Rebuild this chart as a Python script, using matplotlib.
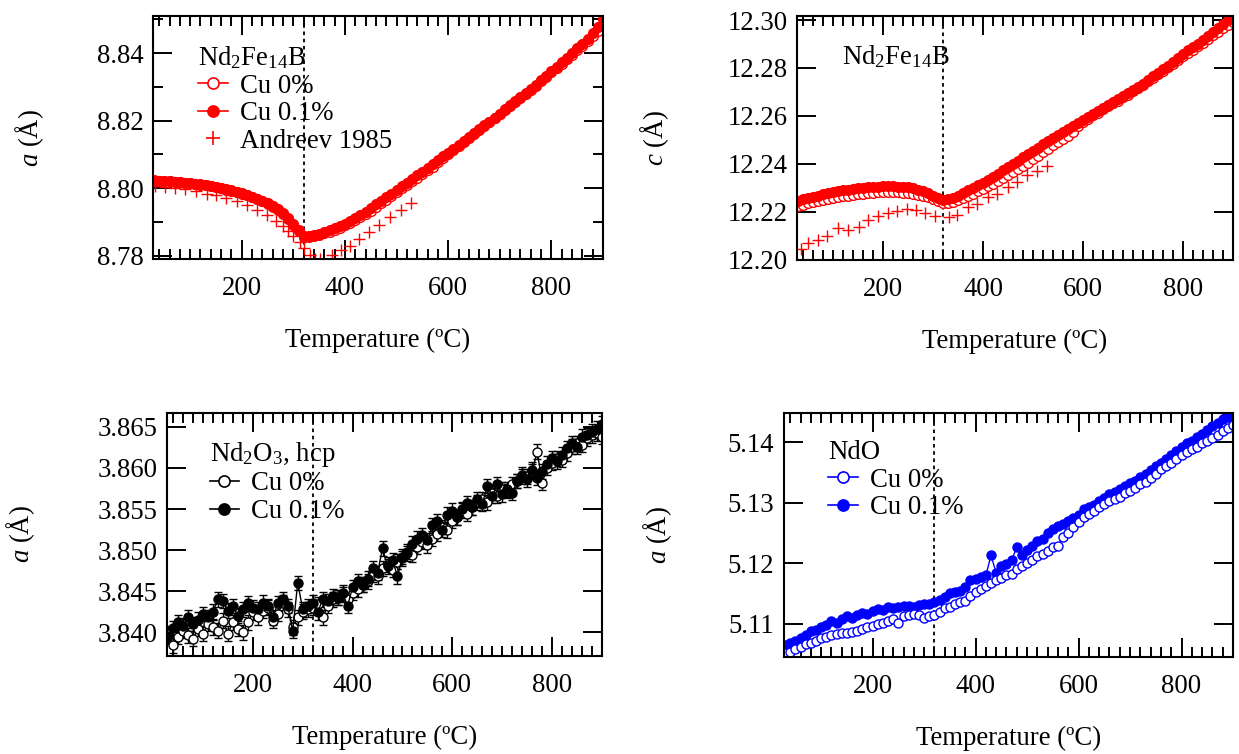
import numpy as np
import matplotlib
matplotlib.use("Agg")
import matplotlib.pyplot as plt
from matplotlib.lines import Line2D
from matplotlib.ticker import MultipleLocator, FormatStrFormatter

plt.rcParams['font.family'] = ['Liberation Serif', 'DejaVu Serif']
plt.rcParams['mathtext.fontset'] = 'custom'
plt.rcParams['mathtext.rm'] = 'Liberation Serif'
plt.rcParams['mathtext.it'] = 'Liberation Serif:italic'
plt.rcParams['font.size'] = 19.3

# temperature grid of the measurements (deg C)
temps = np.arange(30, 901, 10)

# Nd2Fe14B lattice parameter a (Angstrom)
a_cu0 = [8.8025, 8.8022, 8.8021, 8.8020, 8.8019, 8.8017, 8.8016, 8.8014, 8.8012, 8.8010,
         8.8008, 8.8005, 8.8002, 8.7999, 8.7995, 8.7992, 8.7988, 8.7984, 8.7979, 8.7974,
         8.7968, 8.7961, 8.7953, 8.7944, 8.7935, 8.7924, 8.7909, 8.7892, 8.7874, 8.7858,
         8.7855, 8.7857, 8.7861, 8.7866, 8.7871, 8.7877, 8.7883, 8.7890, 8.7897, 8.7905,
         8.7914, 8.7924, 8.7933, 8.7943, 8.7955, 8.7966, 8.7977, 8.7988, 8.7999, 8.8009,
         8.8020, 8.8031, 8.8042, 8.8053, 8.8064, 8.8076, 8.8090, 8.8102, 8.8114, 8.8126,
         8.8137, 8.8149, 8.8160, 8.8172, 8.8184, 8.8195, 8.8207, 8.8219, 8.8231, 8.8243,
         8.8255, 8.8267, 8.8279, 8.8291, 8.8304, 8.8317, 8.8330, 8.8343, 8.8356, 8.8369,
         8.8382, 8.8395, 8.8408, 8.8422, 8.8436, 8.8450, 8.8465, 8.8481]
a_cu01 = [8.8022, 8.8022, 8.8021, 8.8020, 8.8019, 8.8018, 8.8016, 8.8015, 8.8013, 8.8011,
          8.8008, 8.8006, 8.8003, 8.8000, 8.7996, 8.7993, 8.7989, 8.7985, 8.7980, 8.7975,
          8.7969, 8.7962, 8.7955, 8.7946, 8.7937, 8.7927, 8.7912, 8.7895, 8.7876, 8.7856,
          8.7858, 8.7861, 8.7865, 8.7870, 8.7875, 8.7881, 8.7887, 8.7894, 8.7902, 8.7910,
          8.7920, 8.7930, 8.7941, 8.7953, 8.7962, 8.7973, 8.7983, 8.7994, 8.8005, 8.8016,
          8.8027, 8.8038, 8.8049, 8.8060, 8.8071, 8.8082, 8.8094, 8.8105, 8.8116, 8.8128,
          8.8139, 8.8151, 8.8162, 8.8174, 8.8186, 8.8197, 8.8209, 8.8221, 8.8233, 8.8245,
          8.8257, 8.8269, 8.8282, 8.8294, 8.8307, 8.8320, 8.8333, 8.8346, 8.8359, 8.8373,
          8.8386, 8.8400, 8.8414, 8.8428, 8.8443, 8.8460, 8.8478, 8.8500]
andreev_a_t = [32, 51, 70, 90, 112, 132, 151, 169, 190, 210, 230, 249, 267, 280, 290,
               299, 312, 320, 332, 341, 351, 374, 393, 409, 428, 446, 466, 488, 509, 527]
andreev_a = [8.8007, 8.8004, 8.8000, 8.7997, 8.7990, 8.7984, 8.7980, 8.7971, 8.7963, 8.7951,
             8.7936, 8.7919, 8.7904, 8.7889, 8.7874, 8.7858, 8.7840, 8.7823, 8.7801, 8.7791,
             8.7791, 8.7802, 8.7818, 8.7828, 8.7850, 8.7870, 8.7891, 8.7914, 8.7935, 8.7955]

# Nd2Fe14B lattice parameter c (Angstrom)
c_cu0 = [12.2225, 12.2230, 12.2235, 12.2240, 12.2245, 12.2250, 12.2254, 12.2258, 12.2262, 12.2265,
         12.2268, 12.2271, 12.2274, 12.2276, 12.2278, 12.2280, 12.2281, 12.2282, 12.2283, 12.2282,
         12.2281, 12.2280, 12.2279, 12.2276, 12.2272, 12.2268, 12.2262, 12.2254, 12.2245, 12.2235,
         12.2238, 12.2242, 12.2249, 12.2257, 12.2266, 12.2276, 12.2286, 12.2297, 12.2307, 12.2317,
         12.2328, 12.2340, 12.2352, 12.2365, 12.2378, 12.2392, 12.2405, 12.2420, 12.2434, 12.2449,
         12.2463, 12.2478, 12.2492, 12.2505, 12.2518, 12.2535, 12.2560, 12.2575, 12.2589, 12.2602,
         12.2614, 12.2627, 12.2640, 12.2652, 12.2664, 12.2677, 12.2689, 12.2702, 12.2716, 12.2730,
         12.2744, 12.2759, 12.2773, 12.2788, 12.2803, 12.2818, 12.2834, 12.2849, 12.2863, 12.2877,
         12.2891, 12.2906, 12.2921, 12.2936, 12.2951, 12.2965, 12.2979, 12.2993]
c_cu01 = [12.2245, 12.2252, 12.2257, 12.2262, 12.2267, 12.2273, 12.2278, 12.2282, 12.2286, 12.2289,
          12.2292, 12.2295, 12.2298, 12.2300, 12.2302, 12.2303, 12.2304, 12.2306, 12.2309, 12.2307,
          12.2305, 12.2304, 12.2302, 12.2298, 12.2292, 12.2286, 12.2278, 12.2268, 12.2258, 12.2248,
          12.2252, 12.2259, 12.2268, 12.2278, 12.2289, 12.2300, 12.2311, 12.2322, 12.2334, 12.2346,
          12.2359, 12.2373, 12.2388, 12.2401, 12.2413, 12.2427, 12.2440, 12.2454, 12.2468, 12.2482,
          12.2495, 12.2508, 12.2520, 12.2533, 12.2546, 12.2558, 12.2570, 12.2582, 12.2595, 12.2607,
          12.2619, 12.2632, 12.2644, 12.2657, 12.2669, 12.2682, 12.2694, 12.2707, 12.2721, 12.2735,
          12.2750, 12.2765, 12.2779, 12.2794, 12.2810, 12.2826, 12.2843, 12.2859, 12.2873, 12.2887,
          12.2902, 12.2918, 12.2934, 12.2950, 12.2967, 12.2984, 12.3001, 12.3019]
andreev_c_t = [35, 50, 70, 87, 110, 130, 152, 170, 190, 210, 228, 247, 265, 283, 303,
               332, 348, 370, 387, 410, 428, 450, 468, 488, 507, 527]
andreev_c = [12.2046, 12.2071, 12.2083, 12.2097, 12.2131, 12.2124, 12.2138, 12.2165, 12.2184,
             12.2193, 12.2204, 12.2211, 12.2207, 12.2193, 12.2184, 12.2177, 12.2188, 12.2218,
             12.2231, 12.2263, 12.2275, 12.2303, 12.2323, 12.2352, 12.2371, 12.2393]

# Nd2O3 (hcp) lattice parameter a
nd2o3_cu0 = [3.8398, 3.8384, 3.8394, 3.8402, 3.8396, 3.8392, 3.8404, 3.8398, 3.8410, 3.8406,
             3.8402, 3.8414, 3.8398, 3.8412, 3.8404, 3.8400, 3.8412, 3.8424, 3.8418, 3.8426,
             3.8430, 3.8414, 3.8422, 3.8436, 3.8428, 3.8406, 3.8418, 3.8425, 3.8428, 3.8430,
             3.8434, 3.8418, 3.8432, 3.8440, 3.8442, 3.8446, 3.8440, 3.8448, 3.8452, 3.8458,
             3.8462, 3.8470, 3.8468, 3.8478, 3.8482, 3.8476, 3.8486, 3.8490, 3.8498, 3.8494,
             3.8504, 3.8510, 3.8506, 3.8514, 3.8520, 3.8528, 3.8524, 3.8536, 3.8540, 3.8548,
             3.8544, 3.8552, 3.8558, 3.8562, 3.8558, 3.8570, 3.8566, 3.8574, 3.8572, 3.8580,
             3.8584, 3.8592, 3.8590, 3.8596, 3.8620, 3.8582, 3.8600, 3.8606, 3.8612, 3.8610,
             3.8618, 3.8626, 3.8630, 3.8628, 3.8636, 3.8640, 3.8642, 3.8638]
nd2o3_cu01 = [3.8395, 3.8405, 3.8412, 3.8408, 3.8418, 3.8410, 3.8415, 3.8422, 3.8418, 3.8425,
              3.8440, 3.8438, 3.8426, 3.8432, 3.8420, 3.8428, 3.8435, 3.8430, 3.8428, 3.8436,
              3.8432, 3.8418, 3.8435, 3.8440, 3.8432, 3.8402, 3.8460, 3.8428, 3.8432, 3.8436,
              3.8424, 3.8440, 3.8438, 3.8444, 3.8442, 3.8448, 3.8432, 3.8455, 3.8462, 3.8458,
              3.8465, 3.8478, 3.8472, 3.8502, 3.8480, 3.8488, 3.8468, 3.8492, 3.8496, 3.8508,
              3.8514, 3.8518, 3.8512, 3.8530, 3.8535, 3.8525, 3.8543, 3.8548, 3.8540, 3.8550,
              3.8557, 3.8552, 3.8562, 3.8556, 3.8578, 3.8566, 3.8580, 3.8568, 3.8574, 3.8570,
              3.8584, 3.8590, 3.8586, 3.8598, 3.8588, 3.8596, 3.8605, 3.8612, 3.8608, 3.8616,
              3.8624, 3.8630, 3.8626, 3.8638, 3.8640, 3.8644, 3.8648, 3.8654]
nd2o3_err = 0.0009

# NdO lattice parameter a
ndo_cu0 = [5.1052, 5.1054, 5.1058, 5.1062, 5.1066, 5.1068, 5.1072, 5.1076, 5.1078, 5.1082,
           5.1083, 5.1084, 5.1084, 5.1086, 5.1088, 5.1092, 5.1094, 5.1096, 5.1100, 5.1102,
           5.1104, 5.1108, 5.1101, 5.1112, 5.1114, 5.1116, 5.1114, 5.1110, 5.1112, 5.1114,
           5.1120, 5.1126, 5.1128, 5.1132, 5.1136, 5.1138, 5.1146, 5.1152, 5.1158, 5.1162,
           5.1168, 5.1172, 5.1176, 5.1180, 5.1182, 5.1190, 5.1196, 5.1200, 5.1206, 5.1212,
           5.1216, 5.1220, 5.1226, 5.1228, 5.1243, 5.1250, 5.1260, 5.1268, 5.1276, 5.1282,
           5.1287, 5.1292, 5.1298, 5.1302, 5.1306, 5.1310, 5.1316, 5.1320, 5.1324, 5.1330,
           5.1334, 5.1340, 5.1348, 5.1356, 5.1360, 5.1366, 5.1372, 5.1378, 5.1384, 5.1388,
           5.1392, 5.1398, 5.1402, 5.1406, 5.1412, 5.1418, 5.1424, 5.1428]
ndo_cu01 = [5.1065, 5.1068, 5.1072, 5.1076, 5.1082, 5.1088, 5.1090, 5.1094, 5.1098, 5.1104,
            5.1102, 5.1108, 5.1112, 5.1110, 5.1115, 5.1118, 5.1116, 5.1121, 5.1124, 5.1122,
            5.1127, 5.1126, 5.1128, 5.1129, 5.1130, 5.1128, 5.1131, 5.1133, 5.1132, 5.1136,
            5.1140, 5.1144, 5.1150, 5.1152, 5.1154, 5.1160, 5.1172, 5.1174, 5.1178, 5.1180,
            5.1213, 5.1184, 5.1196, 5.1199, 5.1205, 5.1226, 5.1214, 5.1222, 5.1228, 5.1236,
            5.1240, 5.1250, 5.1256, 5.1262, 5.1265, 5.1270, 5.1274, 5.1280, 5.1290, 5.1292,
            5.1296, 5.1302, 5.1308, 5.1314, 5.1318, 5.1322, 5.1328, 5.1332, 5.1336, 5.1342,
            5.1348, 5.1354, 5.1360, 5.1366, 5.1372, 5.1378, 5.1386, 5.1392, 5.1398, 5.1402,
            5.1408, 5.1414, 5.1420, 5.1426, 5.1432, 5.1438, 5.1442, 5.1448]
ndo_err = 0.0003

curie_t = 320
x_range = (28, 900)


def style_axes(ax, ylim, ystep, yfmt, yminor=None):
    ax.set_xlim(*x_range)
    ax.set_ylim(*ylim)
    ax.xaxis.set_major_locator(MultipleLocator(200))
    ax.xaxis.set_minor_locator(MultipleLocator(20))
    ax.yaxis.set_major_locator(MultipleLocator(ystep))
    if yminor:
        ax.yaxis.set_minor_locator(MultipleLocator(yminor))
    ax.yaxis.set_major_formatter(FormatStrFormatter(yfmt))
    ax.tick_params(which='both', direction='in', top=True, right=True, width=1.4)
    ax.tick_params(which='major', length=14)
    ax.tick_params(which='minor', length=7)
    ax.tick_params(axis='x', which='major', pad=12)
    ax.tick_params(axis='y', which='major', pad=7)
    for s in ax.spines.values():
        s.set_linewidth(1.5)
    ax.axvline(curie_t, color='k', ls=(0, (2, 2)), lw=1.3, zorder=0)
    ax.set_xlabel('Temperature (ºC)')
    ax.xaxis.set_label_coords(0.5, -0.335)
    ax.xaxis.label.set_va('center')


def add_legend(ax, title, x, y, handles, labels):
    ax.legend(handles, labels, loc='upper left', bbox_to_anchor=(x, y), frameon=False,
              title=title, borderpad=0, borderaxespad=0, handlelength=1.1,
              handletextpad=0.45, labelspacing=0.1, alignment='left', title_fontsize=19.3)


def key(color, filled, marker='o', ls='-'):
    return Line2D([], [], color=color, marker=marker, ls=ls, lw=1.2, ms=8 if marker == 'o' else 10,
                  mfc=color if filled else 'white', mec=color, mew=1.2)


fig = plt.figure(figsize=(12.39, 7.54), dpi=100)

# top left: a of Nd2Fe14B
ax1 = fig.add_axes([0.1235, 0.6565, 0.3632, 0.3223])
ax1.plot(temps, a_cu0, '-o', color='red', mfc='white', mec='red', ms=7, lw=1)
ax1.plot(temps, a_cu01, '-o', color='red', ms=7, lw=1)
ax1.plot(andreev_a_t, andreev_a, '+', color='red', ms=9, mew=1, ls='none')
style_axes(ax1, (8.779, 8.851), 0.02, '%.2f', 0.01)
ax1.set_ylabel('$a$ (Å)')
ax1.yaxis.set_label_coords(-0.238, 0.5)
add_legend(ax1, 'Nd$_2$Fe$_{14}$B', 0.10, 0.885,
           [key('red', False), key('red', True), key('red', True, '+', 'none')],
           ['Cu 0%', 'Cu 0.1%', 'Andreev 1985'])

# top right: c of Nd2Fe14B
ax2 = fig.add_axes([0.6433, 0.6552, 0.3519, 0.3236])
ax2.plot(temps, c_cu0, '-o', color='red', mfc='white', mec='red', ms=7, lw=1)
ax2.plot(temps, c_cu01, '-o', color='red', ms=7, lw=1)
ax2.plot(andreev_c_t, andreev_c, '+', color='red', ms=9, mew=1, ls='none')
style_axes(ax2, (12.1999, 12.3017), 0.02, '%.2f')
ax2.set_ylabel('$c$ (Å)')
ax2.yaxis.set_label_coords(-0.29, 0.5)
ax2.text(0.103, 0.89, 'Nd$_2$Fe$_{14}$B', transform=ax2.transAxes, ha='left', va='top')

# bottom left: a of Nd2O3 (hcp)
ax3 = fig.add_axes([0.1348, 0.13, 0.3511, 0.3223])
ax3.errorbar(temps, nd2o3_cu0, yerr=nd2o3_err, fmt='-o', color='k', mfc='white', mec='k',
             ms=6.5, lw=1, elinewidth=1, capsize=3)
ax3.errorbar(temps, nd2o3_cu01, yerr=nd2o3_err, fmt='-o', color='k', ms=6.5, lw=1,
             elinewidth=1, capsize=3)
style_axes(ax3, (3.8371, 3.8667), 0.005, '%.3f')
ax3.set_ylabel('$a$ (Å)')
ax3.yaxis.set_label_coords(-0.299, 0.5)
add_legend(ax3, 'Nd$_2$O$_3$, hcp', 0.098, 0.89,
           [key('k', False), key('k', True)], ['Cu 0%', 'Cu 0.1%'])

# bottom right: a of NdO
ax4 = fig.add_axes([0.6328, 0.1286, 0.3624, 0.3236])
ax4.errorbar(temps, ndo_cu01, yerr=ndo_err, fmt='-o', color='blue', ms=6.5, lw=1,
             elinewidth=1, capsize=3)
ax4.errorbar(temps, ndo_cu0, yerr=ndo_err, fmt='-o', color='blue', mfc='white', mec='blue',
             ms=6.5, lw=1, elinewidth=1, capsize=3)
style_axes(ax4, (5.1045, 5.1448), 0.01, '%.2f')
ax4.set_ylabel('$a$ (Å)')
ax4.yaxis.set_label_coords(-0.245, 0.5)
add_legend(ax4, 'NdO', 0.098, 0.89,
           [key('blue', False), key('blue', True)], ['Cu 0%', 'Cu 0.1%'])

fig.savefig('out.png', dpi=100)
